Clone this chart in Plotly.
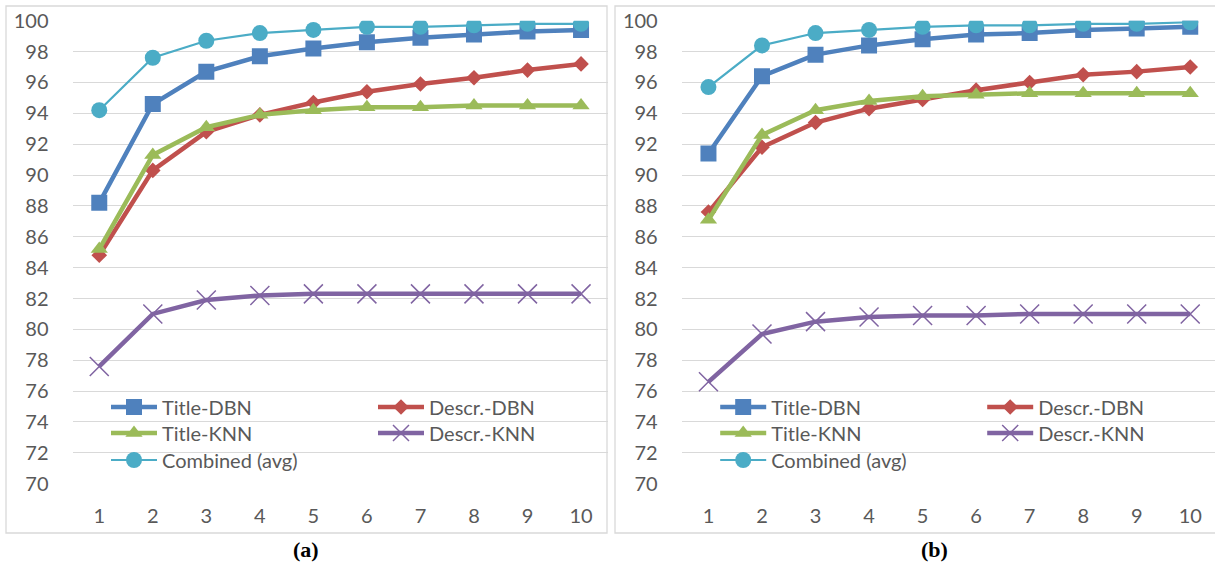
import plotly.graph_objects as go

# ---------------- data ----------------
k_values = [1, 2, 3, 4, 5, 6, 7, 8, 9, 10]
series_names = ["Title-DBN", "Descr.-DBN", "Title-KNN", "Descr.-KNN", "Combined (avg)"]

a_title_dbn = [88.2, 94.6, 96.7, 97.7, 98.2, 98.6, 98.9, 99.1, 99.3, 99.4]
a_descr_dbn = [84.8, 90.3, 92.8, 93.9, 94.7, 95.4, 95.9, 96.3, 96.8, 97.2]
a_title_knn = [85.2, 91.3, 93.1, 93.9, 94.2, 94.4, 94.4, 94.5, 94.5, 94.5]
a_descr_knn = [77.6, 81.0, 81.9, 82.2, 82.3, 82.3, 82.3, 82.3, 82.3, 82.3]
a_combined = [94.2, 97.6, 98.7, 99.2, 99.4, 99.6, 99.6, 99.7, 99.8, 99.8]

b_title_dbn = [91.4, 96.4, 97.8, 98.4, 98.8, 99.1, 99.2, 99.4, 99.5, 99.6]
b_descr_dbn = [87.6, 91.8, 93.4, 94.3, 94.9, 95.5, 96.0, 96.5, 96.7, 97.0]
b_title_knn = [87.1, 92.6, 94.2, 94.8, 95.1, 95.2, 95.3, 95.3, 95.3, 95.3]
b_descr_knn = [76.6, 79.7, 80.5, 80.8, 80.9, 80.9, 81.0, 81.0, 81.0, 81.0]
b_combined = [95.7, 98.4, 99.2, 99.4, 99.6, 99.7, 99.7, 99.8, 99.8, 99.9]

y_ticks = [70, 72, 74, 76, 78, 80, 82, 84, 86, 88, 90, 92, 94, 96, 98, 100]
panel_labels = ["(a)", "(b)"]

# ---------------- styles ----------------
W, H = 1215, 564
TXT = "#595959"
GRID = "#D9D9D9"
FONT = "Lato"

styles = [
    dict(color="#4F81BD", width=4.5, symbol="square", size=16, lw=0),
    dict(color="#C0504D", width=4.5, symbol="diamond", size=12, lw=0),
    dict(color="#9BBB59", width=4.5, symbol="triangle-up", size=15, lw=0),
    dict(color="#8064A2", width=4.5, symbol="x-thin-open", size=19, lw=1.5),
    dict(color="#4BACC6", width=2.2, symbol="circle", size=16, lw=0),
]
legend_rows = [0, 0, 1, 1, 2]

panels = [
    dict(data=[a_title_dbn, a_descr_dbn, a_title_knn, a_descr_knn, a_combined],
         xa="x", ya="y", legends=["legend", "legend2", "legend3"]),
    dict(data=[b_title_dbn, b_descr_dbn, b_title_knn, b_descr_knn, b_combined],
         xa="x2", ya="y2", legends=["legend4", "legend5", "legend6"]),
]

fig = go.Figure()
for p in panels:
    for i, name in enumerate(series_names):
        s = styles[i]
        fig.add_trace(go.Scatter(
            x=k_values, y=p["data"][i], name=name, mode="lines+markers",
            xaxis=p["xa"], yaxis=p["ya"], legend=p["legends"][legend_rows[i]],
            line=dict(color=s["color"], width=s["width"]),
            marker=dict(symbol=s["symbol"], size=s["size"], color=s["color"],
                        line=dict(color=s["color"], width=s["lw"])),
        ))

# geometry (pixels)
top_px, bot_px = 20.7, 483.7
ydom = [1 - bot_px / H, 1 - top_px / H]
xa_dom = [72.5 / W, 607.8 / W]
xb_left = 681.7
xb_dom = [xb_left / W, 1.0]
px_per_unit = (607.8 - 72.5) / 10.0
xb_right_val = 0.5 + (W - xb_left) / px_per_unit

axis_font = dict(family=FONT, size=20, color=TXT)
common_y = dict(range=[70, 100], tickvals=y_ticks, showgrid=True, gridcolor=GRID,
                gridwidth=1.3, zeroline=False, showline=False,
                ticks="outside", ticklen=19, tickcolor="rgba(0,0,0,0)",
                tickfont=axis_font, fixedrange=True, automargin=False)
common_x = dict(tickvals=k_values, showgrid=False, zeroline=False, showline=False,
                ticks="", ticklabelstandoff=18, tickfont=axis_font, automargin=False)

fig.update_layout(
    width=W, height=H, margin=dict(l=0, r=0, t=0, b=0, autoexpand=False),
    paper_bgcolor="white", plot_bgcolor="white",
    xaxis=dict(domain=xa_dom, range=[0.5, 10.5], anchor="y", **common_x),
    yaxis=dict(domain=ydom, anchor="x", **common_y),
    xaxis2=dict(domain=xb_dom, range=[0.5, xb_right_val], anchor="y2", **common_x),
    yaxis2=dict(domain=ydom, anchor="x2", **common_y),
)

# legends: three rows per panel, two columns
leg_font = dict(family=FONT, size=20, color=TXT)
row_y = [407, 433, 460]
col_x = [106, 106 + 609.2]
for pi, p in enumerate(panels):
    for r, lname in enumerate(p["legends"]):
        fig.update_layout(**{lname: dict(
            x=col_x[pi] / W, y=1 - row_y[r] / H, xanchor="left", yanchor="middle",
            orientation="h", entrywidth=206, entrywidthmode="pixels",
            bgcolor="rgba(0,0,0,0)", borderwidth=0, font=leg_font,
            tracegroupgap=0, itemwidth=46,
        )})

# panel borders
fig.add_shape(type="rect", xref="paper", yref="paper",
              x0=6 / W, x1=607 / W, y0=1 - 533 / H, y1=1 - 6 / H,
              line=dict(color=GRID, width=1.3))
fig.add_shape(type="rect", xref="paper", yref="paper",
              x0=615 / W, x1=1.01, y0=1 - 533 / H, y1=1 - 6 / H,
              line=dict(color=GRID, width=1.3))

# panel labels
for lbl, cx in zip(panel_labels, [306, 934]):
    fig.add_annotation(x=cx / W, y=1 - 549 / H, xref="paper", yref="paper",
                       xanchor="center", yanchor="middle",
                       text="<b>" + lbl + "</b>", showarrow=False,
                       font=dict(family="Liberation Serif", size=22, color="black"))

fig.write_html("out.html", config={"displayModeBar": False},
               post_script="document.body.style.margin='0';")
